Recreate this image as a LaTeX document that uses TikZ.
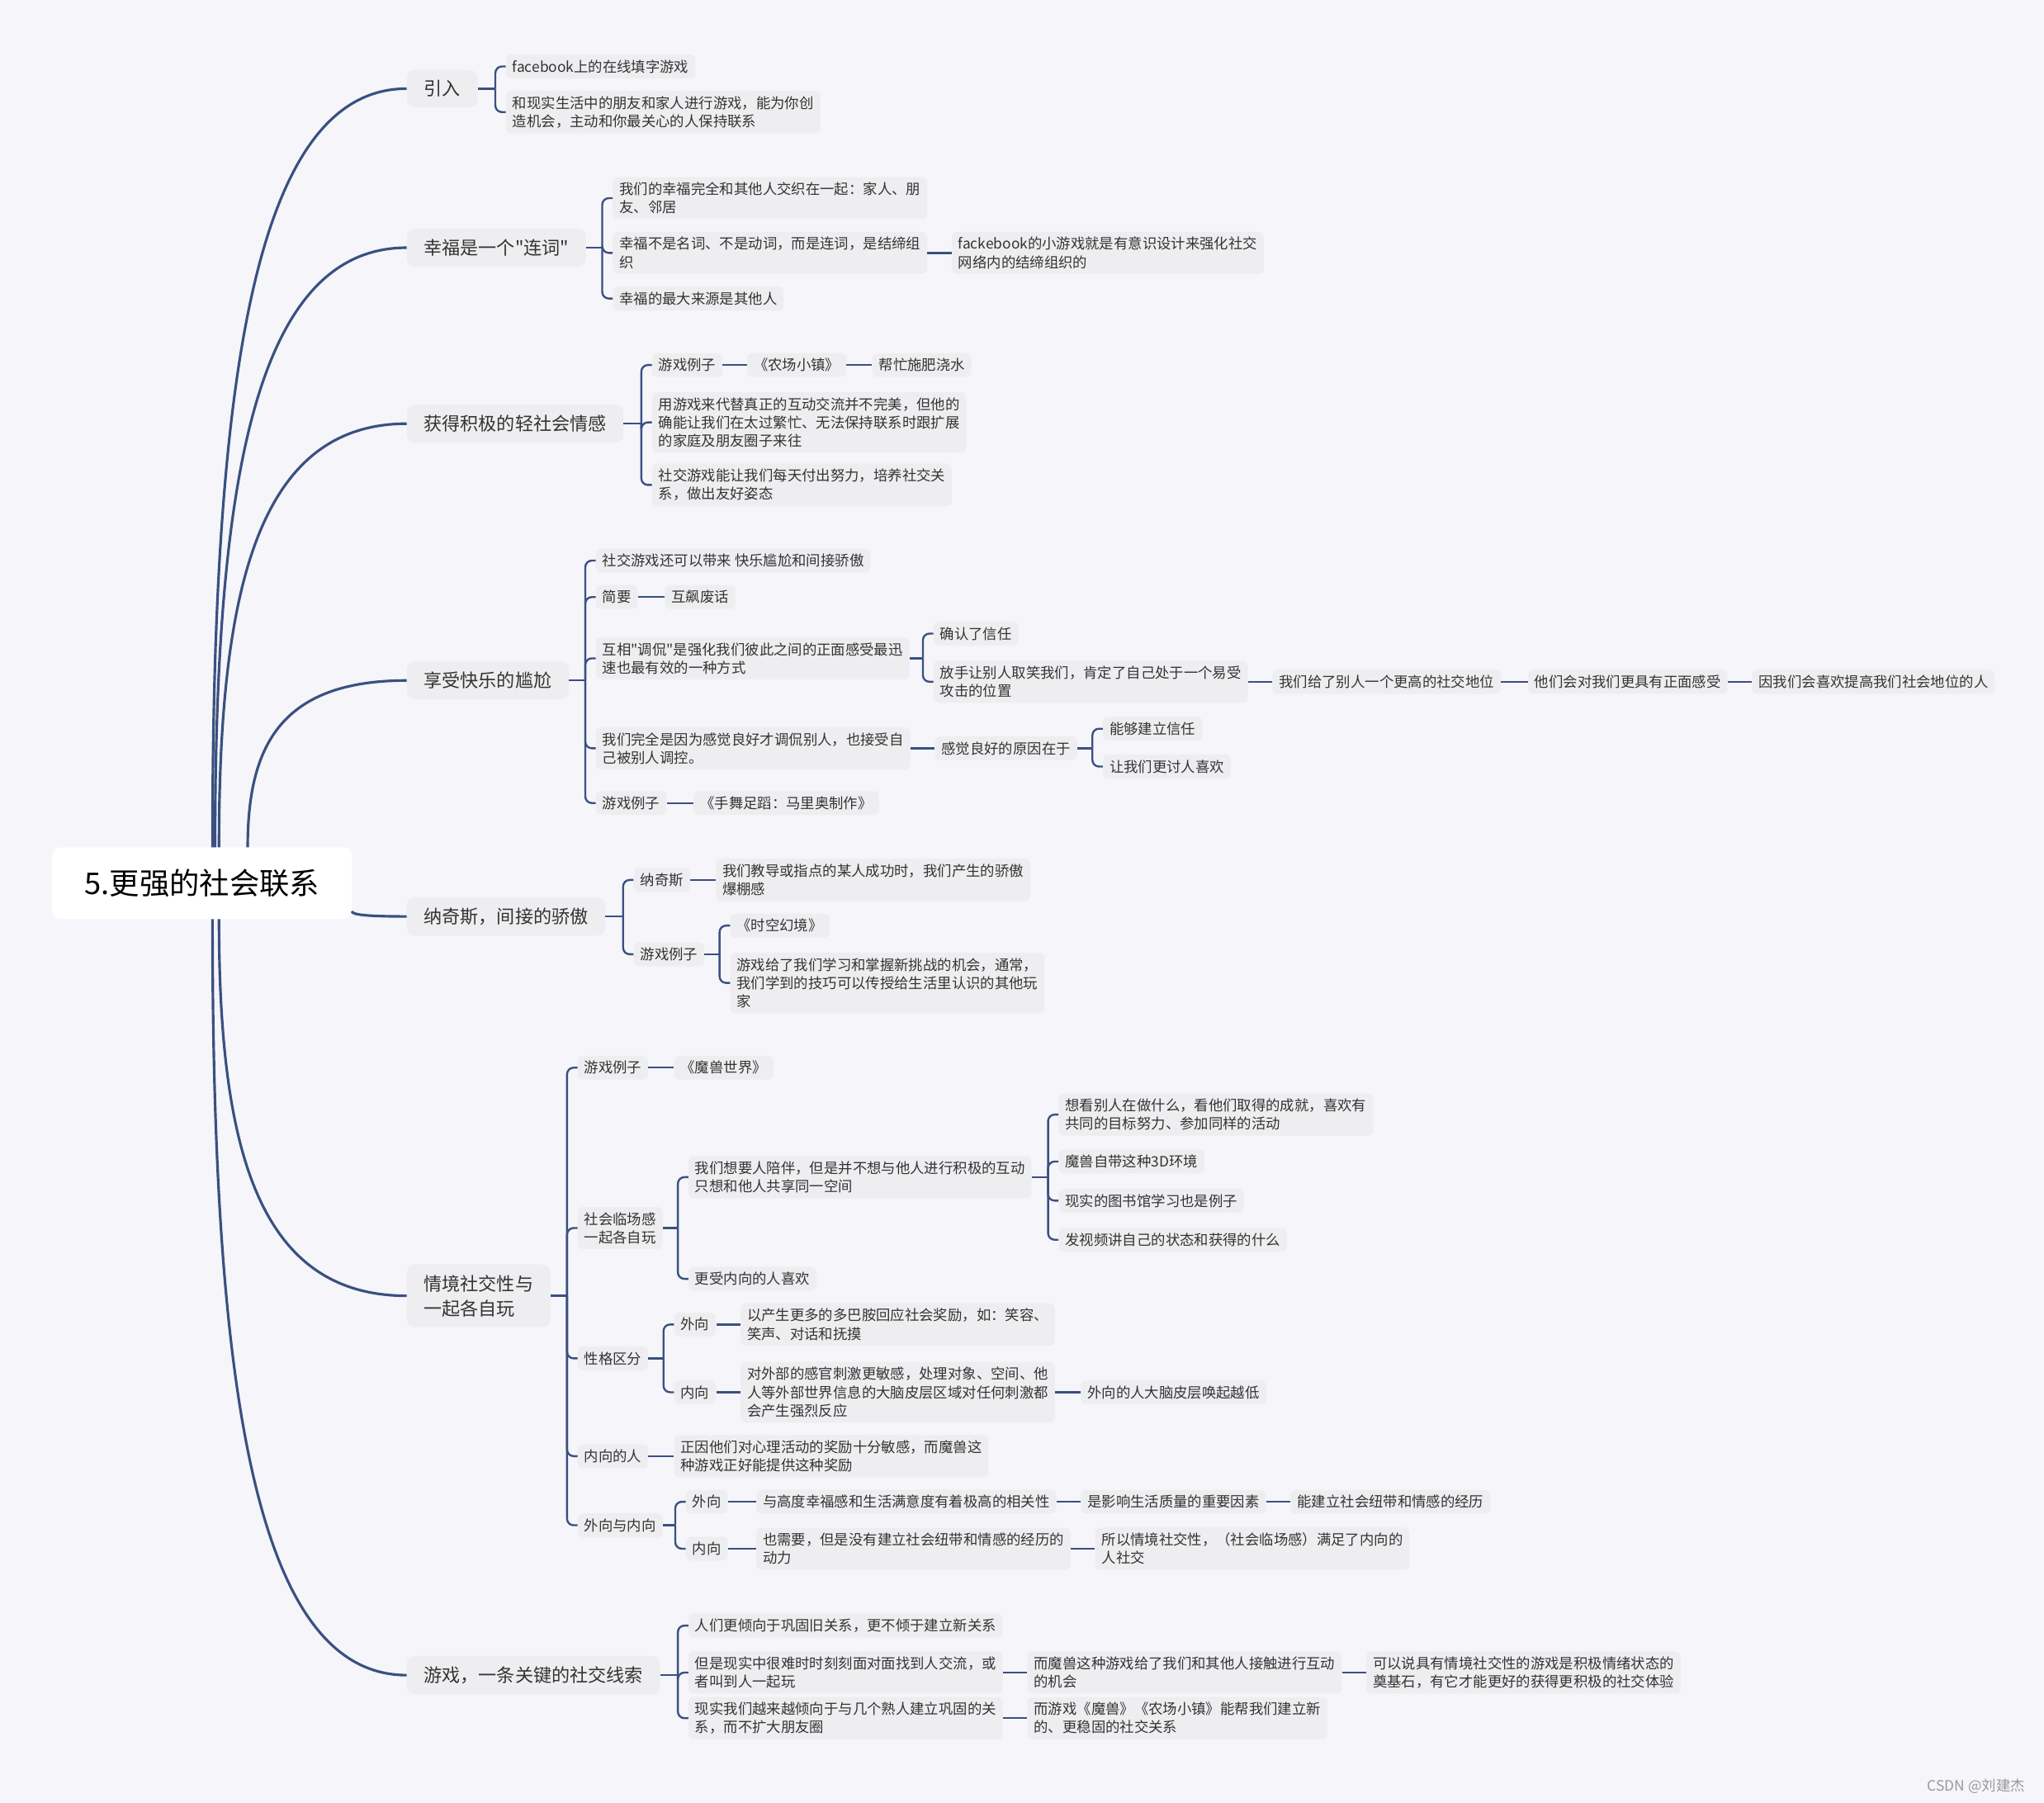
\documentclass[tikz,border=0pt]{standalone}
\usepackage{fontspec}
\setmainfont{Noto Sans CJK SC}[Ligatures=TeXOff]
\usetikzlibrary{calc}

\definecolor{bgcol}{HTML}{F5F5FA}
\definecolor{boxcol}{HTML}{EEEEF0}
\definecolor{linkcol}{HTML}{3A5080}
\definecolor{textcol}{HTML}{333333}

\begin{document}
\begin{tikzpicture}[x=1pt,y=-1pt,
  root/.style={fill=white, rounded corners=6pt, font=\fontsize{23}{28}\selectfont, minimum width=230pt, minimum height=55pt, inner sep=0pt},
  topic/.style={fill=boxcol, rounded corners=6pt, anchor=west, align=left, text=textcol, font=\fontsize{14}{19}\selectfont, inner xsep=13pt, inner ysep=8pt},
  leaf/.style={fill=boxcol, rounded corners=4pt, anchor=west, align=left, text=textcol, font=\fontsize{11}{14}\selectfont, inner xsep=5pt, inner ysep=4pt},
  branch/.style={draw=linkcol, line width=2pt},
  link/.style={draw=linkcol, line width=1.5pt, rounded corners=5pt}]

\fill[bgcol] (0,0) rectangle (1568,1383);
\useasboundingbox (0,0) rectangle (1568,1383);

% centre and main topics
\node[root] (root) at (155,677.5) {5.更强的社会联系};
\node[topic] (t1) at (312,68) {引入};
\node[topic] (t2) at (312,190) {幸福是一个"连词"};
\node[topic] (t3) at (312,325) {获得积极的轻社会情感};
\node[topic] (t4) at (312,522) {享受快乐的尴尬};
\node[topic] (t5) at (312,703) {纳奇斯，间接的骄傲};
\node[topic] (t6) at (312,994) {情境社交性与\\一起各自玩};
\node[topic] (t7) at (312,1285) {游戏，一条关键的社交线索};

\coordinate (s1) at (163,650);
\coordinate (s2) at (165,650);
\coordinate (s3) at (168,650);
\coordinate (s4) at (190,650);
\coordinate (s5) at (270,699);
\coordinate (s6) at (168,705);
\coordinate (s7) at (163,705);
\foreach \s/\t in {s1/t1,s2/t2,s3/t3,s4/t4,s5/t5,s6/t6,s7/t7}
  \draw[branch] (\s) .. controls ($(\s)!0.6!(\s |- \t.west)$) and ($(\t.west)!0.8!(\s |- \t.west)$) .. (\t.west);

% 引入
\node[leaf] (t1a) at (388,51) {facebook上的在线填字游戏};
\node[leaf] (t1b) at (388,86) {和现实生活中的朋友和家人进行游戏，能为你创\\造机会，主动和你最关心的人保持联系};

% 幸福是一个连词
\node[leaf] (t2a) at (470,152) {我们的幸福完全和其他人交织在一起：家人、朋\\友、邻居};
\node[leaf] (t2b) at (470,194) {幸福不是名词、不是动词，而是连词，是结缔组\\织};
\node[leaf] (t2c) at (470,229) {幸福的最大来源是其他人};
\node[leaf] (t2d) at (730,194) {fackebook的小游戏就是有意识设计来强化社交\\网络内的结缔组织的};
\draw[link] (t2b.east) -- (t2d.west);

% 获得积极的轻社会情感
\node[leaf] (t3a) at (500,280) {游戏例子};
\node[leaf] (t3b) at (573,280) {《农场小镇》};
\node[leaf] (t3c) at (669,280) {帮忙施肥浇水};
\node[leaf] (t3d) at (500,324) {用游戏来代替真正的互动交流并不完美，但他的\\确能让我们在太过繁忙、无法保持联系时跟扩展\\的家庭及朋友圈子来往};
\node[leaf] (t3e) at (500,372) {社交游戏能让我们每天付出努力，培养社交关\\系，做出友好姿态};
\draw[link] (t3a.east) -- (t3b.west);
\draw[link] (t3b.east) -- (t3c.west);

% 享受快乐的尴尬
\node[leaf] (t4a) at (457,430) {社交游戏还可以带来 快乐尴尬和间接骄傲};
\node[leaf] (t4b) at (457,458) {简要};
\node[leaf] (t4c) at (510,458) {互飙废话};
\node[leaf] (t4d) at (457,505) {互相"调侃"是强化我们彼此之间的正面感受最迅\\速也最有效的一种方式};
\node[leaf] (t4e) at (716,486) {确认了信任};
\node[leaf] (t4f) at (716,523) {放手让别人取笑我们，肯定了自己处于一个易受\\攻击的位置};
\node[leaf] (t4g) at (976,523) {我们给了别人一个更高的社交地位};
\node[leaf] (t4h) at (1172,523) {他们会对我们更具有正面感受};
\node[leaf] (t4i) at (1344,523) {因我们会喜欢提高我们社会地位的人};
\node[leaf] (t4j) at (457,574) {我们完全是因为感觉良好才调侃别人，也接受自\\己被别人调控。};
\node[leaf] (t4k) at (717,574) {感觉良好的原因在于};
\node[leaf] (t4l) at (846,559) {能够建立信任};
\node[leaf] (t4m) at (846,588) {让我们更讨人喜欢};
\node[leaf] (t4n) at (457,616) {游戏例子};
\node[leaf] (t4o) at (532,616) {《手舞足蹈：马里奥制作》};
\draw[link] (t4b.east) -- (t4c.west);
\draw[link] (t4f.east) -- (t4g.west);
\draw[link] (t4g.east) -- (t4h.west);
\draw[link] (t4h.east) -- (t4i.west);
\draw[link] (t4j.east) -- (t4k.west);
\draw[link] (t4n.east) -- (t4o.west);

% 纳奇斯
\node[leaf] (t5a) at (486,675) {纳奇斯};
\node[leaf] (t5b) at (549,675) {我们教导或指点的某人成功时，我们产生的骄傲\\爆棚感};
\node[leaf] (t5c) at (486,732) {游戏例子};
\node[leaf] (t5d) at (560,710) {《时空幻境》};
\node[leaf] (t5e) at (560,754) {游戏给了我们学习和掌握新挑战的机会，通常，\\我们学到的技巧可以传授给生活里认识的其他玩\\家};
\draw[link] (t5a.east) -- (t5b.west);

% 情境社交性
\node[leaf] (t6a) at (443,819) {游戏例子};
\node[leaf] (t6b) at (517,819) {《魔兽世界》};
\node[leaf] (t6c) at (443,942) {社会临场感\\一起各自玩};
\node[leaf] (t6d) at (528,903) {我们想要人陪伴，但是并不想与他人进行积极的互动\\只想和他人共享同一空间};
\node[leaf] (t6e) at (812,855) {想看别人在做什么，看他们取得的成就，喜欢有\\共同的目标努力、参加同样的活动};
\node[leaf] (t6f) at (812,891) {魔兽自带这种3D环境};
\node[leaf] (t6g) at (812,921) {现实的图书馆学习也是例子};
\node[leaf] (t6h) at (812,951) {发视频讲自己的状态和获得的什么};
\node[leaf] (t6i) at (528,981) {更受内向的人喜欢};
\node[leaf] (t6j) at (443,1042) {性格区分};
\node[leaf] (t6k) at (517,1016) {外向};
\node[leaf] (t6l) at (568,1016) {以产生更多的多巴胺回应社会奖励，如：笑容、\\笑声、对话和抚摸};
\node[leaf] (t6m) at (517,1068) {内向};
\node[leaf] (t6n) at (568,1068) {对外部的感官刺激更敏感，处理对象、空间、他\\人等外部世界信息的大脑皮层区域对任何刺激都\\会产生强烈反应};
\node[leaf] (t6o) at (829,1068) {外向的人大脑皮层唤起越低};
\node[leaf] (t6p) at (443,1117) {内向的人};
\node[leaf] (t6q) at (517,1117) {正因他们对心理活动的奖励十分敏感，而魔兽这\\种游戏正好能提供这种奖励};
\node[leaf] (t6r) at (443,1170) {外向与内向};
\node[leaf] (t6s) at (526,1152) {外向};
\node[leaf] (t6t) at (580,1152) {与高度幸福感和生活满意度有着极高的相关性};
\node[leaf] (t6u) at (829,1152) {是影响生活质量的重要因素};
\node[leaf] (t6v) at (990,1152) {能建立社会纽带和情感的经历};
\node[leaf] (t6w) at (526,1188) {内向};
\node[leaf] (t6x) at (580,1188) {也需要，但是没有建立社会纽带和情感的经历的\\动力};
\node[leaf] (t6y) at (840,1188) {所以情境社交性，（社会临场感）满足了内向的\\人社交};
\draw[link] (t6a.east) -- (t6b.west);
\draw[link] (t6k.east) -- (t6l.west);
\draw[link] (t6m.east) -- (t6n.west);
\draw[link] (t6n.east) -- (t6o.west);
\draw[link] (t6p.east) -- (t6q.west);
\draw[link] (t6s.east) -- (t6t.west);
\draw[link] (t6t.east) -- (t6u.west);
\draw[link] (t6u.east) -- (t6v.west);
\draw[link] (t6w.east) -- (t6x.west);
\draw[link] (t6x.east) -- (t6y.west);

% 游戏，一条关键的社交线索
\node[leaf] (t7a) at (528,1247) {人们更倾向于巩固旧关系，更不倾于建立新关系};
\node[leaf] (t7b) at (528,1283) {但是现实中很难时时刻刻面对面找到人交流，或\\者叫到人一起玩};
\node[leaf] (t7c) at (788,1283) {而魔兽这种游戏给了我们和其他人接触进行互动\\的机会};
\node[leaf] (t7d) at (1048,1283) {可以说具有情境社交性的游戏是积极情绪状态的\\奠基石，有它才能更好的获得更积极的社交体验};
\node[leaf] (t7e) at (528,1318) {现实我们越来越倾向于与几个熟人建立巩固的关\\系，而不扩大朋友圈};
\node[leaf] (t7f) at (788,1318) {而游戏《魔兽》《农场小镇》能帮我们建立新\\的、更稳固的社交关系};
\draw[link] (t7b.east) -- (t7c.west);
\draw[link] (t7c.east) -- (t7d.west);
\draw[link] (t7e.east) -- (t7f.west);

% brackets: parent / children
\foreach \p/\kids in {t1/{t1a,t1b}, t2/{t2a,t2b,t2c}, t3/{t3a,t3d,t3e},
    t4/{t4a,t4b,t4d,t4j,t4n}, t4d/{t4e,t4f}, t4k/{t4l,t4m},
    t5/{t5a,t5c}, t5c/{t5d,t5e}, t6/{t6a,t6c,t6j,t6p,t6r},
    t6c/{t6d,t6i}, t6d/{t6e,t6f,t6g,t6h}, t6j/{t6k,t6m}, t6r/{t6s,t6w},
    t7/{t7a,t7b,t7e}} {
  \foreach \c [count=\i] in \kids {
    \ifnum\i=1
      \coordinate (b\p) at ($(\c.west |- \p.east)+(-8,0)$);
      \draw[link] (\p.east) -- (b\p);
    \fi
    \draw[link] (b\p) |- (\c.west);
  }
}

\node[font=\fontsize{11}{13}\selectfont, text=black!40] (mark) at (1516,1370) {CSDN @刘建杰};
\end{tikzpicture}
\end{document}
